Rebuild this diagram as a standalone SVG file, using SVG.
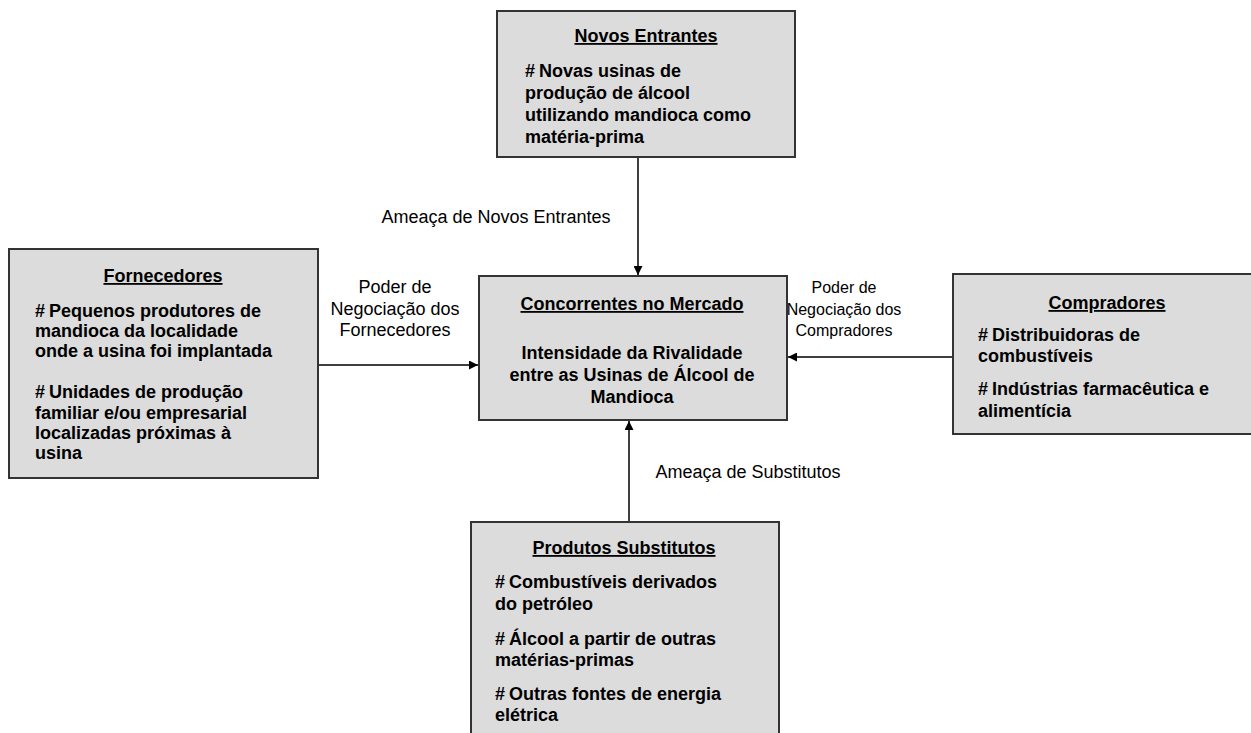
<svg xmlns="http://www.w3.org/2000/svg" width="1251" height="733" viewBox="0 0 1251 733">
<style>
.box{fill:#dcdcdc;stroke:#333;stroke-width:2}
.h{font-family:"Liberation Sans",Arial,sans-serif;font-weight:bold;font-size:18px;text-decoration:underline;text-anchor:middle;fill:#000}
.b{font-family:"Liberation Sans",Arial,sans-serif;font-weight:bold;font-size:18px;fill:#000}
.c{text-anchor:middle}
.l{font-family:"Liberation Sans",Arial,sans-serif;font-size:18px;fill:#000;text-anchor:middle}
.ls{font-size:16px}
.ln{stroke:#000;stroke-width:1.5;fill:none}
</style>
<defs>
<marker id="ah" viewBox="0 0 10 10" refX="10" refY="5" markerWidth="6" markerHeight="6" orient="auto" markerUnits="strokeWidth">
<path d="M0,0 L10,5 L0,10 z" fill="#000"/>
</marker>
</defs>
<rect width="1251" height="733" fill="#fff"/>
<g id="connectors">
<line class="ln" x1="638" y1="158" x2="638" y2="275" marker-end="url(#ah)"/>
<line class="ln" x1="319" y1="365" x2="478" y2="365" marker-end="url(#ah)"/>
<line class="ln" x1="952" y1="357" x2="788" y2="357" marker-end="url(#ah)"/>
<line class="ln" x1="629" y1="521" x2="629" y2="421" marker-end="url(#ah)"/>
<text class="l" x="496" y="223">Ameaça de Novos Entrantes</text>
<text class="l" x="395" y="293">Poder de</text>
<text class="l" x="395" y="315">Negociação dos</text>
<text class="l" x="395" y="336">Fornecedores</text>
<text class="l ls" x="844" y="293">Poder de</text>
<text class="l ls" x="844" y="315">Negociação dos</text>
<text class="l ls" x="844" y="336">Compradores</text>
<text class="l" x="748" y="478">Ameaça de Substitutos</text>
</g>
<g id="novos-entrantes">
<rect class="box" x="497" y="11" width="298" height="146"/>
<text class="h" x="646" y="42">Novos Entrantes</text>
<text class="b" x="525" y="77">#<tspan dx="4">Novas usinas de</tspan></text>
<text class="b" x="525" y="99">produção de álcool</text>
<text class="b" x="525" y="121">utilizando mandioca como</text>
<text class="b" x="525" y="143">matéria-prima</text>
</g>
<g id="fornecedores">
<rect class="box" x="9" y="249" width="309" height="229"/>
<text class="h" x="163" y="282">Fornecedores</text>
<text class="b" x="35" y="317">#<tspan dx="4">Pequenos produtores de</tspan></text>
<text class="b" x="35" y="337">mandioca da localidade</text>
<text class="b" x="35" y="357">onde a usina foi implantada</text>
<text class="b" x="35" y="398">#<tspan dx="4">Unidades de produção</tspan></text>
<text class="b" x="35" y="419">familiar e/ou empresarial</text>
<text class="b" x="35" y="439">localizadas próximas à</text>
<text class="b" x="35" y="459">usina</text>
</g>
<g id="concorrentes">
<rect class="box" x="479" y="276" width="308" height="144"/>
<text class="h" x="632" y="310">Concorrentes no Mercado</text>
<text class="b c" x="632" y="359">Intensidade da Rivalidade</text>
<text class="b c" x="632" y="381">entre as Usinas de Álcool de</text>
<text class="b c" x="632" y="403">Mandioca</text>
</g>
<g id="compradores">
<rect class="box" x="953" y="274" width="308" height="160"/>
<text class="h" x="1107" y="309">Compradores</text>
<text class="b" x="978" y="341">#<tspan dx="4">Distribuidoras de</tspan></text>
<text class="b" x="978" y="362">combustíveis</text>
<text class="b" x="978" y="395">#<tspan dx="4">Indústrias farmacêutica e</tspan></text>
<text class="b" x="978" y="417">alimentícia</text>
</g>
<g id="produtos-substitutos">
<rect class="box" x="471" y="522" width="308" height="230"/>
<text class="h" x="624" y="554">Produtos Substitutos</text>
<text class="b" x="495" y="588">#<tspan dx="4">Combustíveis derivados</tspan></text>
<text class="b" x="495" y="610">do petróleo</text>
<text class="b" x="495" y="645">#<tspan dx="4">Álcool a partir de outras</tspan></text>
<text class="b" x="495" y="666">matérias-primas</text>
<text class="b" x="495" y="700">#<tspan dx="4">Outras fontes de energia</tspan></text>
<text class="b" x="495" y="721">elétrica</text>
</g>
</svg>
